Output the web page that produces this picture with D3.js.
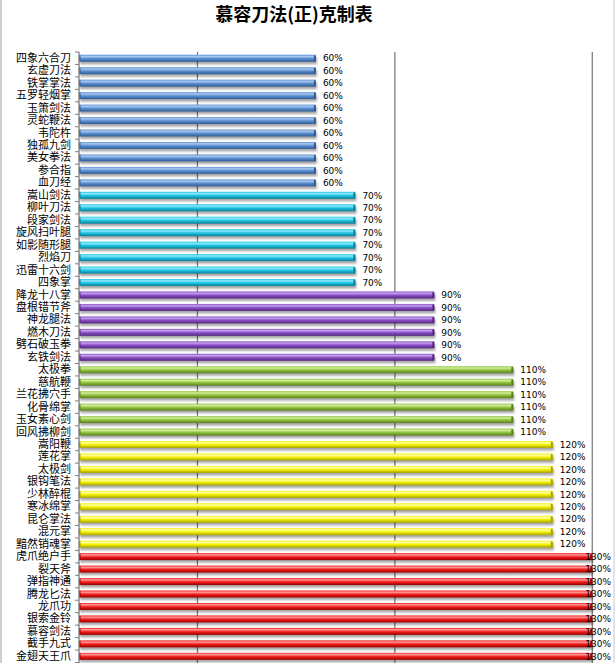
<!DOCTYPE html>
<html>
<head>
<meta charset="utf-8">
<script src="https://cdn.jsdelivr.net/npm/d3@7"></script>
<style>
  html, body { margin: 0; padding: 0; background: #fff; }
  svg { display: block; }
</style>
</head>
<body>
<svg></svg>
<script>
const title = '慕容刀法(正)克制表';

const categories = [
  '四象六合刀', '玄虚刀法', '铁掌掌法', '五罗轻烟掌', '玉箫剑法', '灵蛇鞭法', '韦陀杵', '独孤九剑', '美女拳法', '参合指', '血刀经',
  '嵩山剑法', '柳叶刀法', '段家剑法', '旋风扫叶腿', '如影随形腿', '烈焰刀', '迅雷十六剑', '四象掌',
  '降龙十八掌', '盘根错节斧', '神龙腿法', '燃木刀法', '劈石破玉拳', '玄铁剑法',
  '太极拳', '慈航鞭', '兰花拂穴手', '化骨绵掌', '玉女素心剑', '回风拂柳剑',
  '嵩阳鞭', '莲花掌', '太极剑', '银钩笔法', '少林醉棍', '寒冰绵掌', '昆仑掌法', '混元掌', '黯然销魂掌',
  '虎爪绝户手', '裂天斧', '弹指神通', '腾龙匕法', '龙爪功', '银索金铃', '慕容剑法', '截手九式', '金翅天王爪'
];

const values = [
  0.6, 0.6, 0.6, 0.6, 0.6, 0.6, 0.6, 0.6, 0.6, 0.6, 0.6,
  0.7, 0.7, 0.7, 0.7, 0.7, 0.7, 0.7, 0.7,
  0.9, 0.9, 0.9, 0.9, 0.9, 0.9,
  1.1, 1.1, 1.1, 1.1, 1.1, 1.1,
  1.2, 1.2, 1.2, 1.2, 1.2, 1.2, 1.2, 1.2, 1.2,
  1.3, 1.3, 1.3, 1.3, 1.3, 1.3, 1.3, 1.3, 1.3
];

const gridValues = [0.3, 0.8, 1.3];

// colour per value level: [light, mid, dark]
const levelColors = {
  0.6: ['#a9c8ee', '#5b8fd0', '#2f5c96'],
  0.7: ['#8ee8f8', '#1ec4e4', '#0b7f98'],
  0.9: ['#c3a2e8', '#8a4fc8', '#53237f'],
  1.1: ['#d2ef9c', '#92c43e', '#5a7f1d'],
  1.2: ['#ffffa8', '#f2f000', '#a8a300'],
  1.3: ['#ff9a9a', '#f21c1c', '#9c0000']
};

const width = 615, height = 663;
const margin = { top: 52, left: 79, right: 1 };
const band = 12.46;

const svg = d3.select('svg').attr('width', width).attr('height', height);

const x = d3.scaleLinear().domain([0, 1.355]).range([margin.left, width - margin.right]);
const y = d3.scaleBand()
  .domain(categories)
  .range([margin.top, margin.top + band * categories.length])
  .paddingInner(0.44).paddingOuter(0.22);

const defs = svg.append('defs');
Object.entries(levelColors).forEach(([k, c]) => {
  const g = defs.append('linearGradient')
    .attr('id', 'g' + String(k).replace('.', '_'))
    .attr('x1', 0).attr('y1', 0).attr('x2', 0).attr('y2', 1);
  g.append('stop').attr('offset', '0%').attr('stop-color', c[1]);
  g.append('stop').attr('offset', '25%').attr('stop-color', c[0]);
  g.append('stop').attr('offset', '55%').attr('stop-color', c[1]);
  g.append('stop').attr('offset', '100%').attr('stop-color', c[2]);
});
defs.append('filter').attr('id', 'shadow')
  .attr('x', '-5%').attr('y', '-50%').attr('width', '110%').attr('height', '250%')
  .append('feGaussianBlur').attr('stdDeviation', 1.1);

// chart border
svg.append('line').attr('x1', 1).attr('x2', 1).attr('y1', 0).attr('y2', height)
  .attr('stroke', '#a0a0a0');
svg.append('line').attr('x1', width - 1).attr('x2', width - 1).attr('y1', 0).attr('y2', height)
  .attr('stroke', '#c8c8c8');

// title
svg.append('text')
  .attr('x', 294).attr('y', 21)
  .attr('text-anchor', 'middle')
  .attr('font-family', '"Noto Sans CJK SC", sans-serif')
  .attr('font-size', 18).attr('font-weight', 'bold')
  .text(title);

// gridlines
svg.append('g').selectAll('line').data(gridValues).join('line')
  .attr('x1', d => x(d)).attr('x2', d => x(d))
  .attr('y1', margin.top).attr('y2', height)
  .attr('stroke', '#7f7f7f').attr('stroke-width', 1.3);

// bars
const bars = svg.append('g');
const rowH = y.bandwidth();
bars.selectAll('rect.shadow').data(categories).join('rect')
  .attr('class', 'shadow')
  .attr('x', x(0) + 1)
  .attr('y', d => y(d) + 2.5)
  .attr('width', (d, i) => x(values[i]) - x(0))
  .attr('height', rowH)
  .attr('fill', '#000').attr('opacity', 0.35)
  .attr('filter', 'url(#shadow)');

bars.selectAll('rect.bar').data(categories).join('rect')
  .attr('class', 'bar')
  .attr('x', x(0))
  .attr('y', d => y(d))
  .attr('width', (d, i) => x(values[i]) - x(0))
  .attr('height', rowH)
  .attr('fill', (d, i) => 'url(#g' + String(values[i]).replace('.', '_') + ')');

// darker end cap
bars.selectAll('rect.cap').data(categories).join('rect')
  .attr('class', 'cap')
  .attr('x', (d, i) => x(values[i]) - 2)
  .attr('y', d => y(d) + 0.5)
  .attr('width', 2)
  .attr('height', rowH - 1)
  .attr('rx', 1)
  .attr('fill', (d, i) => levelColors[values[i]][2]);

// start cap
bars.selectAll('rect.start').data(categories).join('rect')
  .attr('class', 'start')
  .attr('x', x(0))
  .attr('y', d => y(d) + 0.5)
  .attr('width', 1.5)
  .attr('height', rowH - 1)
  .attr('fill', (d, i) => levelColors[values[i]][2]);

// value labels
svg.append('g').selectAll('text').data(categories).join('text')
  .attr('x', (d, i) => x(values[i]) + (values[i] >= 1.3 ? -7 : 7))
  .attr('y', d => y(d) + rowH / 2)
  .attr('dy', '0.36em')
  .attr('font-family', '"DejaVu Sans", sans-serif')
  .attr('font-size', 9)
  .attr('fill', '#000')
  .text((d, i) => Math.round(values[i] * 100) + '%');

// category axis
const yAxis = d3.axisLeft(y).tickSize(0).tickPadding(8);
const ag = svg.append('g').attr('transform', `translate(${margin.left},0)`).call(yAxis);
ag.select('.domain').remove();
ag.selectAll('text')
  .attr('font-family', '"Noto Sans CJK SC", sans-serif')
  .attr('font-size', 11)
  .attr('fill', '#000');

svg.append('line')
  .attr('x1', margin.left).attr('x2', margin.left)
  .attr('y1', margin.top).attr('y2', height)
  .attr('stroke', '#7f7f7f').attr('stroke-width', 1.3);

// tick marks between categories
const tickYs = d3.range(categories.length + 1).map(i => margin.top + i * band);
svg.append('g').selectAll('line').data(tickYs).join('line')
  .attr('x1', margin.left - 4).attr('x2', margin.left)
  .attr('y1', d => d).attr('y2', d => d)
  .attr('stroke', '#7f7f7f');
</script>
</body>
</html>
